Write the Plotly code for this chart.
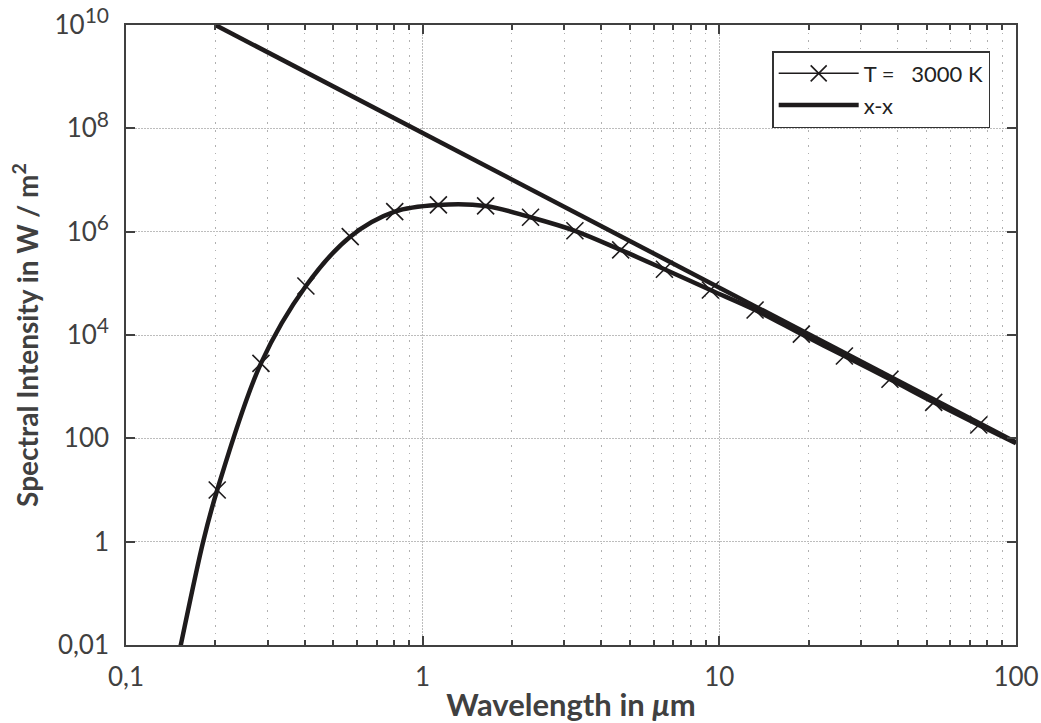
import plotly.graph_objects as go

# ---- data ----
# Planck curve, T = 3000 K (markers)
lam_markers = [0.203, 0.285, 0.404, 0.570, 0.805, 1.13, 1.63, 2.31, 3.26, 4.65,
               6.53, 9.33, 13.2, 18.9, 26.4, 37.6, 52.8, 74.9]
int_markers = [10.0, 2830, 8.9e4, 8.0e5, 2.44e6, 3.29e6, 3.15e6, 1.90e6, 1.04e6, 4.43e5,
               1.87e5, 7.43e4, 3.05e4, 1.04e4, 3920, 1390, 498, 181]

# smooth curve (same points plus the ends)
lam_curve = [0.148, 0.153, 0.182] + lam_markers + [100]
int_curve = [0.004, 0.01, 1.0] + int_markers + [80]

# asymptote line "x-x"
lam_line = [0.2, 100]
int_line = [1e10, 84]

x_tickvals = [0.1, 1, 10, 100]
x_ticktext = ["0,1", "1", "10", "100"]
x_minor = [m * d for d in (0.1, 1, 10) for m in range(2, 10)]
y_tickvals = [0.01, 1, 100, 1e4, 1e6, 1e8, 1e10]
SUP = "<sup><span style='font-size:21px'>%s</span></sup>"
y_ticktext = ["0,01", "1", "100", "10" + SUP % "4", "10" + SUP % "6", "10" + SUP % "8", "10" + SUP % "10"]

INK = "#1e1b1c"
AX = "#404040"
FONT = "Lato"

fig = go.Figure()
fig.add_trace(go.Scatter(x=lam_curve, y=int_curve, mode="lines", line=dict(color=INK, width=4.5, shape="spline"),
                         showlegend=False, hoverinfo="skip"))
fig.add_trace(go.Scatter(x=lam_markers, y=int_markers, mode="lines+markers", name="T =   3000 K",
                         line=dict(color=INK, width=1.5, shape="spline"),
                         marker=dict(symbol="x-thin", size=17, line=dict(color=INK, width=1.6))))
fig.add_trace(go.Scatter(x=lam_line, y=int_line, mode="lines", name="x-x",
                         line=dict(color=INK, width=4.5)))

fig.update_layout(
    width=1041, height=723,
    margin=dict(l=126, r=25, t=25, b=78, autoexpand=False),
    paper_bgcolor="white", plot_bgcolor="white",
    font=dict(family=FONT, color=AX, size=24),
    legend=dict(x=0.971, y=0.958, xanchor="right", yanchor="top",
                bgcolor="white", bordercolor="#333333", borderwidth=1.5,
                font=dict(family=FONT, size=22, color="#222222"),
                itemwidth=80, tracegroupgap=0),
)
fig.update_xaxes(
    type="log", range=[-1, 2], automargin=False,
    tickvals=x_tickvals, ticktext=x_ticktext,
    ticks="inside", ticklen=9, tickwidth=1.5, tickcolor=AX,
    showline=True, linecolor=AX, linewidth=1.5, mirror="ticks",
    showgrid=True, gridcolor="#bdbdbd", gridwidth=1, griddash="2px,1px",
    tickfont=dict(size=26, color=AX), ticklabelstandoff=8,
    minor=dict(tickvals=x_minor, ticks="inside", ticklen=5, tickwidth=1.5, tickcolor=AX,
               showgrid=True, gridcolor="#b0b0b0", gridwidth=1, griddash="1.5px,6px"),
    title=dict(text="<b>Wavelength in <i>μ</i>m</b>", font=dict(size=31, color=AX), standoff=4),
    zeroline=False,
)
fig.update_yaxes(
    type="log", range=[-2, 10], automargin=False,
    tickvals=y_tickvals, ticktext=y_ticktext,
    ticks="inside", ticklen=9, tickwidth=1.5, tickcolor=AX,
    showline=True, linecolor=AX, linewidth=1.5, mirror="ticks",
    showgrid=True, gridcolor="#bdbdbd", gridwidth=1, griddash="2px,1px",
    tickfont=dict(size=26, color=AX), ticklabelstandoff=10,
    title=dict(text="<b>Spectral Intensity in W / m<sup>2</sup></b>", font=dict(size=28, color=AX), standoff=8),
    zeroline=False,
)

fig.write_html("out.html", config={"displayModeBar": False},
               post_script="document.body.style.margin='0';")
